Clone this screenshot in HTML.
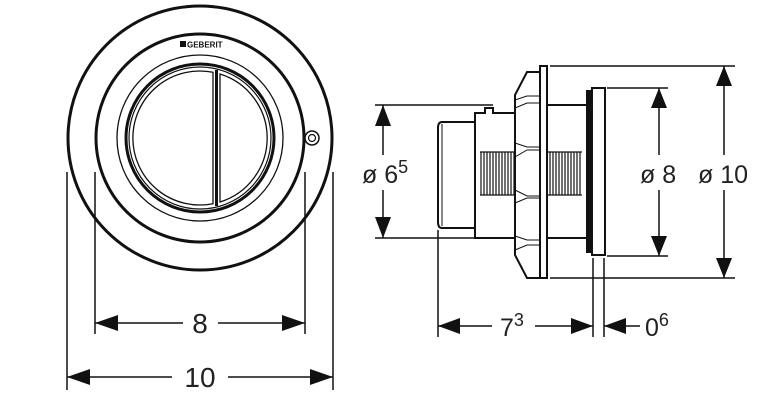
<!DOCTYPE html>
<html><head><meta charset="utf-8"><style>
html,body{margin:0;padding:0;background:#fff;width:764px;height:400px;overflow:hidden}
svg{display:block}
text{font-family:"Liberation Sans",sans-serif;fill:#222}
</style></head><body>
<svg width="764" height="400" viewBox="0 0 764 400" xmlns="http://www.w3.org/2000/svg">
<g fill="none" stroke="#111">
<circle cx="200" cy="138" r="132" stroke-width="3"/>
<circle cx="200" cy="138" r="104" stroke-width="3"/>
<circle cx="200" cy="138" r="83" stroke-width="1.3"/>
<circle cx="200" cy="138" r="74" stroke-width="3"/>
<circle cx="200" cy="138" r="71" stroke-width="1.2"/>
<path d="M213 72.3 A67 67 0 1 0 213 203.7 Z" stroke-width="1.3"/>
<path d="M220 74 A67 67 0 0 1 220 202 Z" stroke-width="1.3"/>
<line x1="216.5" y1="70" x2="216.5" y2="206" stroke-width="3"/>
<circle cx="312" cy="138" r="7" stroke-width="1.5"/>
<circle cx="312" cy="138" r="3.5" stroke-width="1.2"/>
<line x1="67" y1="172" x2="67" y2="390" stroke-width="1.5"/>
<line x1="333" y1="172" x2="333" y2="390" stroke-width="1.5"/>
<line x1="95" y1="172" x2="95" y2="334" stroke-width="1.5"/>
<line x1="305" y1="172" x2="305" y2="334" stroke-width="1.5"/>
<line x1="95" y1="323" x2="183" y2="323" stroke-width="1.5"/>
<line x1="218" y1="323" x2="305" y2="323" stroke-width="1.5"/>
<line x1="67" y1="377" x2="172" y2="377" stroke-width="1.5"/>
<line x1="228" y1="377" x2="333" y2="377" stroke-width="1.5"/>
</g>
<g fill="#111">
<polygon points="95,323 118,315 118,331"/><polygon points="305,323 282,315 282,331"/>
<polygon points="67,377 90,369 90,385"/><polygon points="333,377 310,369 310,385"/>
</g>
<rect x="180" y="41" width="6" height="6" fill="#111"/>
<text x="187" y="47.5" font-size="8" font-weight="bold" style="fill:#111">GEBERIT</text>
<text x="200" y="333" font-size="28" text-anchor="middle">8</text>
<text x="200" y="387" font-size="28" text-anchor="middle">10</text>

<g fill="none" stroke="#111" stroke-width="2">
<path d="M475 122 L442 122 Q438 122 438 128 L438 222 Q438 228 442 228 L475 228"/>
<line x1="442" y1="124" x2="442" y2="226" stroke-width="1"/>
<path d="M515 113 L493 113 L493 108 L485 108 L485 113 L475 113 L475 238 L515 238"/>
<path d="M547 105 L587 105 L587 238 L547 238"/>
<rect x="540" y="66" width="7" height="212"/>
<path d="M540 72 L527 72 L515 95 L515 255 L527 278 L540 278"/>
<path d="M515 100 L527 96 L540 96 M515 108 L527 103 L540 103 M515 143 L527 147 L540 147 M515 157 L527 150 L540 150 M515 190 L527 196 L540 196 M515 203 L527 198 L540 198 M515 236 L527 240 L540 240 M515 250 L527 245 L540 245" stroke-width="1"/>
<rect x="592" y="88" width="13" height="167"/>
<rect x="587" y="91" width="5" height="161" fill="#111"/>
</g>
<g stroke="#111" stroke-width="1.2">
<path d="M481 152 v43 M484 152 v43 M487 152 v43 M490 152 v43 M493 152 v43 M496 152 v43 M499 152 v43 M502 152 v43 M505 152 v43 M508 152 v43 M511 152 v43 M514 152 v43"/>
<path d="M550 152 v43 M553 152 v43 M556 152 v43 M559 152 v43 M562 152 v43 M565 152 v43 M568 152 v43 M571 152 v43 M574 152 v43 M577 152 v43 M580 152 v43"/>
<path d="M480 152 h35 M480 195 h35 M548 152 h34 M548 195 h34"/>
</g>
<g fill="none" stroke="#111" stroke-width="1.5">
<line x1="375" y1="105" x2="493" y2="105"/>
<line x1="375" y1="238" x2="475" y2="238"/>
<line x1="383" y1="105" x2="383" y2="155"/><line x1="383" y1="190" x2="383" y2="238"/>
<line x1="550" y1="66" x2="735" y2="66"/>
<line x1="550" y1="278" x2="735" y2="278"/>
<line x1="607" y1="88" x2="668" y2="88"/>
<line x1="607" y1="256" x2="668" y2="256"/>
<line x1="659" y1="88" x2="659" y2="155"/><line x1="659" y1="190" x2="659" y2="256"/>
<line x1="724" y1="66" x2="724" y2="155"/><line x1="724" y1="190" x2="724" y2="278"/>
<line x1="438" y1="230" x2="438" y2="337"/>
<line x1="593" y1="258" x2="593" y2="337"/>
<line x1="604" y1="258" x2="604" y2="337"/>
<line x1="438" y1="326" x2="492" y2="326"/>
<line x1="535" y1="326" x2="593" y2="326"/>
<line x1="604" y1="326" x2="640" y2="326"/>
</g>
<g fill="#111">
<polygon points="383,105 375,126 391,126"/><polygon points="383,238 375,217 391,217"/>
<polygon points="659,88 651,108 667,108"/><polygon points="659,256 651,236 667,236"/>
<polygon points="724,66 716,86 732,86"/><polygon points="724,278 716,258 732,258"/>
<polygon points="438,326 460,318 460,334"/><polygon points="593,326 571,318 571,334"/>
<polygon points="604,326 626,318 626,334"/>
</g>
<text x="362" y="183" font-size="25">ø 6<tspan font-size="18" dy="-10">5</tspan></text>
<text x="640" y="183" font-size="25">ø 8</text>
<text x="698" y="183" font-size="25">ø 10</text>
<text x="500" y="336" font-size="25">7<tspan font-size="18" dy="-10">3</tspan></text>
<text x="645" y="336" font-size="25">0<tspan font-size="18" dy="-10">6</tspan></text>
</svg>
</body></html>
